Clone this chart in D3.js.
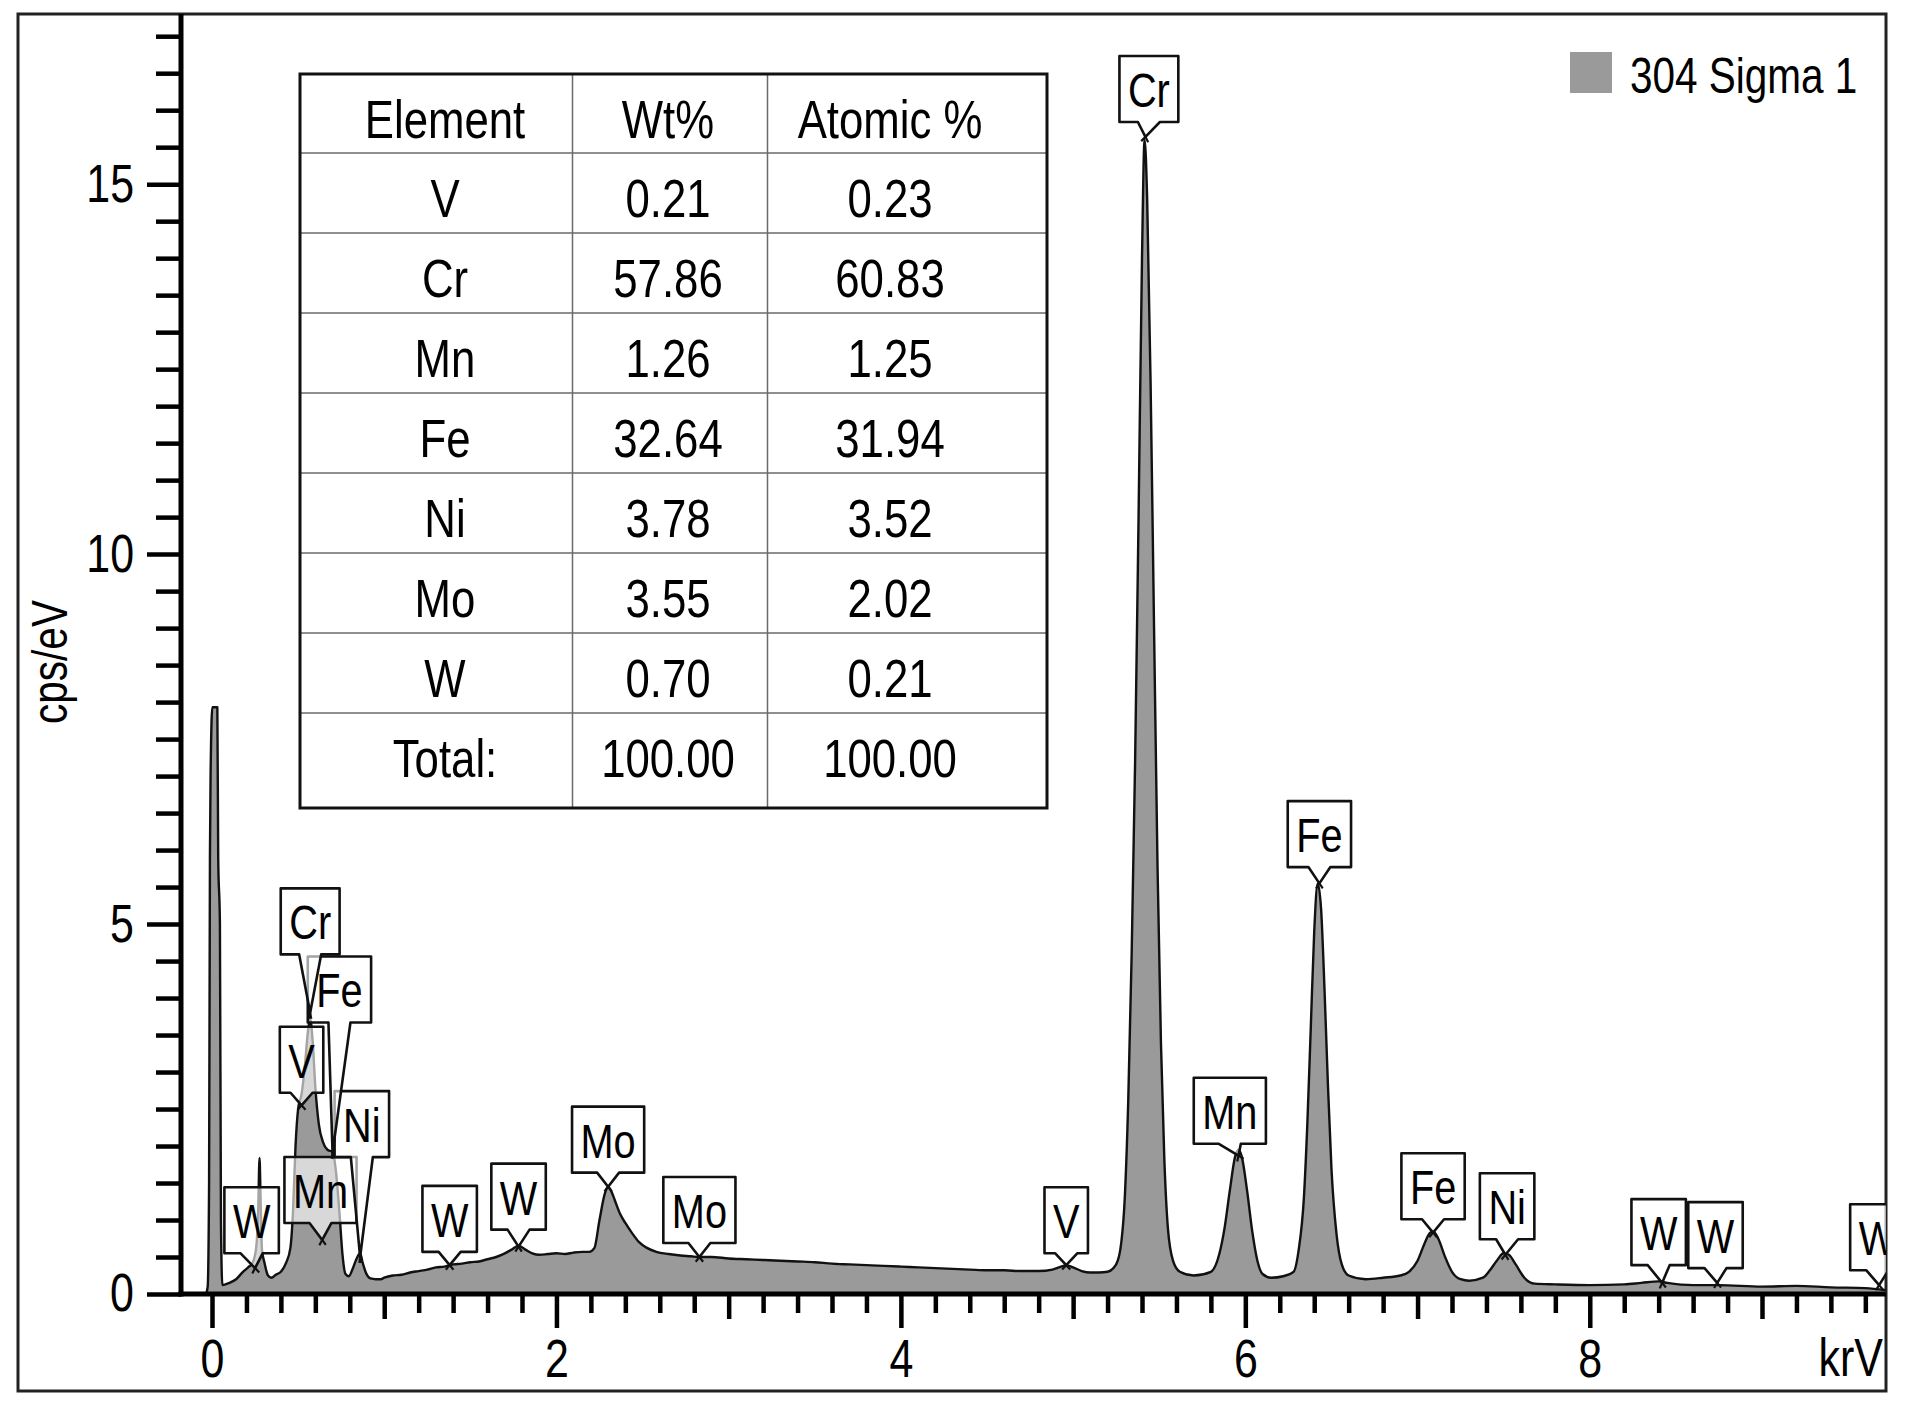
<!DOCTYPE html>
<html>
<head>
<meta charset="utf-8">
<script src="https://cdn.jsdelivr.net/npm/d3@7"></script>
<style>
  body { margin: 0; background: #fff; }
  svg { display: block; }
</style>
</head>
<body>
<div id="chart"></div>
<script>
// spectrum (keV, cps/eV)
const energyKeV = [
  -0.035, -0.025, -0.017, -0.012, -0.008, 0.002, 0.031, 0.036, 0.046, 0.052, 0.06,
  0.1, 0.14, 0.18, 0.21, 0.235, 0.255, 0.268, 0.276, 0.282, 0.29, 0.305, 0.325, 0.345,
  0.37, 0.4, 0.43, 0.455, 0.47, 0.485, 0.5, 0.52, 0.54, 0.557, 0.57, 0.585, 0.6, 0.62,
  0.645, 0.67, 0.7, 0.72, 0.74, 0.757, 0.775, 0.795, 0.815, 0.84, 0.86, 0.875, 0.895,
  0.92, 0.95, 0.98,
  1.0, 1.05, 1.1, 1.15, 1.2, 1.25, 1.3, 1.35, 1.4, 1.45, 1.5, 1.55, 1.6, 1.65, 1.7,
  1.74, 1.78, 1.82, 1.86, 1.9, 1.95, 2.0, 2.05, 2.1, 2.15, 2.19, 2.22, 2.25, 2.28, 2.3,
  2.32, 2.34, 2.37, 2.4, 2.44, 2.48, 2.52, 2.58, 2.65, 2.72, 2.78, 2.83, 2.9, 3.0, 3.1,
  3.2, 3.3, 3.4, 3.5, 3.6, 3.7, 3.8, 3.9, 4.0, 4.1, 4.2, 4.3, 4.4, 4.5, 4.6, 4.7, 4.8,
  4.88, 4.93, 4.96, 5.0, 5.05, 5.1, 5.15, 5.2,
  5.25, 5.28, 5.3, 5.32, 5.34, 5.36, 5.38, 5.4, 5.415, 5.43, 5.45, 5.47, 5.49, 5.51,
  5.53, 5.55, 5.58, 5.62, 5.7, 5.8, 5.85, 5.88, 5.91, 5.94, 5.96, 5.98, 6.01, 6.04,
  6.07, 6.1, 6.15, 6.22, 6.28, 6.31, 6.34, 6.36, 6.38, 6.4, 6.42, 6.44, 6.46, 6.48,
  6.5, 6.53, 6.56, 6.6, 6.7, 6.8, 6.9, 6.95, 7.0, 7.04, 7.07, 7.09, 7.12, 7.16, 7.2,
  7.25, 7.3, 7.38, 7.42, 7.46, 7.5, 7.53, 7.57, 7.62, 7.68, 7.8, 8.0, 8.2, 8.3, 8.4,
  8.45, 8.6, 8.75, 9.0, 9.2, 9.4, 9.6, 9.72
];
const countsPerEv = [
  0, 0.1, 1.5, 5.9, 7.05, 7.93, 7.93, 5.9, 5.0, 1.0, 0.12,
  0.15, 0.2, 0.3, 0.36, 0.42, 0.6, 1.1, 1.84, 1.3, 0.6, 0.42, 0.25, 0.22,
  0.26, 0.3, 0.42, 0.62, 1.1, 2.0, 2.5, 2.7, 3.1, 3.55, 3.72, 3.4, 2.8, 2.3,
  2.05, 1.95, 1.92, 1.65, 1.1, 0.55, 0.27, 0.24, 0.33, 0.48, 0.55, 0.42, 0.28,
  0.21, 0.2, 0.2,
  0.22, 0.25, 0.26, 0.29, 0.31, 0.33, 0.36, 0.37, 0.4, 0.41, 0.43, 0.44, 0.47, 0.5, 0.55,
  0.6, 0.65, 0.6, 0.55, 0.53, 0.54, 0.55, 0.54, 0.56, 0.57, 0.57, 0.62, 1.0, 1.35, 1.45,
  1.38, 1.26, 1.08, 0.96, 0.82, 0.7, 0.63, 0.57, 0.54, 0.52, 0.51, 0.5, 0.5, 0.48, 0.47,
  0.46, 0.45, 0.44, 0.43, 0.41, 0.4, 0.39, 0.38, 0.37, 0.36, 0.35, 0.34, 0.33, 0.32, 0.32, 0.31, 0.31,
  0.33, 0.37, 0.39, 0.36, 0.31, 0.29, 0.29, 0.3,
  0.4, 0.7, 1.3, 2.6, 4.6, 7.2, 10.5, 14.0, 15.6, 14.8, 12.3, 9.0, 5.8, 3.4,
  1.8, 0.9, 0.45, 0.3, 0.25, 0.3, 0.55, 0.9, 1.4, 1.85, 1.95, 1.85, 1.4, 0.85,
  0.45, 0.27, 0.22, 0.24, 0.3, 0.6, 1.3, 2.3, 3.6, 4.9, 5.55, 5.2, 4.1, 2.8,
  1.7, 0.8, 0.4, 0.25, 0.2, 0.22, 0.25, 0.3, 0.45, 0.68, 0.82, 0.85, 0.75, 0.5, 0.3,
  0.2, 0.18, 0.22, 0.32, 0.45, 0.55, 0.53, 0.4, 0.22, 0.14, 0.13, 0.12, 0.13, 0.15, 0.17,
  0.15, 0.12, 0.12, 0.1, 0.11, 0.09, 0.08, 0.05
];

// peak markers: text, tip (keV, cps/eV), box centre keV and box bottom cps/eV
const markerText    = ["Cr", "Fe", "Mn", "Fe", "Ni", "W", "W", "W", "V", "Mo", "Mo", "W", "W", "W", "Mn", "Ni", "V", "Fe", "Cr"];
const markerTipKeV  = [5.42, 6.43, 5.96, 7.09, 7.51, 8.42, 8.74, 9.68, 4.96, 2.30, 2.83, 1.78, 1.38, 0.25, 0.64, 0.86, 0.52, 0.70, 0.57];
const markerTipCps  = [15.64, 5.55, 1.87, 0.83, 0.53, 0.15, 0.15, 0.12, 0.39, 1.45, 0.50, 0.64, 0.39, 0.35, 0.73, 0.50, 2.55, 1.91, 3.80];
const markerBoxKeV  = [5.44, 6.43, 5.91, 7.09, 7.52, 8.40, 8.73, 9.67, 4.96, 2.30, 2.83, 1.78, 1.38, 0.23, 0.63, 0.87, 0.52, 0.74, 0.57];
const markerBoxCps  = [15.84, 5.77, 2.03, 1.01, 0.74, 0.39, 0.35, 0.32, 0.55, 1.64, 0.69, 0.87, 0.57, 0.55, 0.96, 1.85, 2.72, 3.67, 4.59];

// quantification table
const tableHeaders  = ["Element", "Wt%", "Atomic %"];
const tableElements = ["V", "Cr", "Mn", "Fe", "Ni", "Mo", "W", "Total:"];
const tableWt       = ["0.21", "57.86", "1.26", "32.64", "3.78", "3.55", "0.70", "100.00"];
const tableAtomic   = ["0.23", "60.83", "1.25", "31.94", "3.52", "2.02", "0.21", "100.00"];

const xTickLabels = [0, 2, 4, 6, 8];
const yTickLabels = [0, 5, 10, 15];
const seriesName = "304 Sigma 1";

// no narrow face installed, so squeeze Liberation Sans sideways
const FONT = "'Liberation Sans', Arial, sans-serif";
const SX = 0.81;
const GREY = "#9a9a9a";

const W = 1906, H = 1415;
const svg = d3.select("#chart").append("svg")
  .attr("width", W).attr("height", H)
  .style("font-family", FONT);

svg.append("rect").attr("width", W).attr("height", H).attr("fill", "#fff");

function ntext(parent, x, y, str, size, anchor, rot) {
  return parent.append("text")
    .attr("transform", `translate(${x},${y})` + (rot ? ` rotate(${rot})` : "") + ` scale(${SX},1)`)
    .attr("text-anchor", anchor || "start")
    .attr("fill", "#000")
    .style("font-size", size + "px")
    .text(str);
}

const plot = { left: 181, right: 1886, top: 14, bottom: 1294 };

const x = d3.scaleLinear().domain([-0.18, 9.72]).range([plot.left, plot.right]);
const y = d3.scaleLinear().domain([0, 17.3]).range([plot.bottom, plot.top]);

// frame
svg.append("rect")
  .attr("x", 18).attr("y", 14)
  .attr("width", 1868).attr("height", 1377)
  .attr("fill", "none").attr("stroke", "#222").attr("stroke-width", 3);

svg.append("defs").append("clipPath").attr("id", "plotclip")
  .append("rect")
  .attr("x", plot.left).attr("y", plot.top)
  .attr("width", plot.right - plot.left).attr("height", plot.bottom - plot.top);

const spectrum = energyKeV.map((e, i) => ({ e: e, c: countsPerEv[i] }));

const g = svg.append("g").attr("clip-path", "url(#plotclip)");

g.append("path")
  .datum(spectrum)
  .attr("fill", GREY)
  .attr("d", d3.area()
    .x((d) => x(d.e))
    .y0(y(0))
    .y1((d) => y(d.c))
    .curve(d3.curveMonotoneX));

g.append("path")
  .datum(spectrum)
  .attr("fill", "none")
  .attr("stroke", "#111")
  .attr("stroke-width", 2.4)
  .attr("stroke-linejoin", "round")
  .attr("d", d3.line()
    .x((d) => x(d.e))
    .y((d) => y(d.c))
    .curve(d3.curveMonotoneX));

// peak markers (callout boxes)
const BOX_H = 66, TAIL = 11;
markerText.forEach((t, i) => {
  const mg = g.append("g");
  const cx = x(markerBoxKeV[i]);
  const bb = y(markerBoxCps[i]);
  const txt = ntext(mg, cx, bb - 15, t, 49, "middle");
  const tw = txt.node().getComputedTextLength() * SX;
  const bw = tw + 17;
  const bt = bb - BOX_H;
  const l = cx - bw / 2, r = cx + bw / 2;
  const tx = x(markerTipKeV[i]), ty = y(markerTipCps[i]);
  const path = d3.path();
  path.moveTo(l, bt);
  path.lineTo(r, bt);
  path.lineTo(r, bb);
  path.lineTo(cx + TAIL, bb);
  path.lineTo(tx, ty);
  path.lineTo(cx - TAIL, bb);
  path.lineTo(l, bb);
  path.closePath();
  mg.insert("path", "text")
    .attr("d", path.toString())
    .attr("fill", "#fff")
    .attr("fill-opacity", 0.62)
    .attr("stroke", "#111")
    .attr("stroke-width", 2.6)
    .attr("stroke-linejoin", "round");
  // little crossing past the tip
  [-TAIL, TAIL].forEach((o) => {
    const sx = cx + o, sy = bb;
    const len = Math.hypot(tx - sx, ty - sy);
    const ext = 6 / len;
    mg.insert("line", "text")
      .attr("x1", tx).attr("y1", ty)
      .attr("x2", tx + (tx - sx) * ext).attr("y2", ty + (ty - sy) * ext)
      .attr("stroke", "#111").attr("stroke-width", 2.2);
  });
});

// axes
const xMinor = d3.range(0, 49).map((i) => +(i * 0.2).toFixed(1)).filter((v) => !Number.isInteger(v));
const xOdd = [1, 3, 5, 7, 9];

function styleTicks(sel, width) {
  sel.select(".domain").remove();
  sel.selectAll(".tick line").attr("stroke", "#000").attr("stroke-width", width);
}

svg.append("g")
  .attr("transform", `translate(0,${plot.bottom})`)
  .call(d3.axisBottom(x).tickValues(xMinor).tickSize(19).tickFormat(""))
  .call((s) => styleTicks(s, 4.5));
svg.append("g")
  .attr("transform", `translate(0,${plot.bottom})`)
  .call(d3.axisBottom(x).tickValues(xOdd).tickSize(25).tickFormat(""))
  .call((s) => styleTicks(s, 4.5));
svg.append("g")
  .attr("transform", `translate(0,${plot.bottom})`)
  .call(d3.axisBottom(x).tickValues(xTickLabels).tickSize(34).tickPadding(11).tickFormat(d3.format("d")))
  .call((s) => {
    styleTicks(s, 4.5);
    s.selectAll("text")
      .attr("fill", "#000")
      .attr("transform", `scale(${SX},1)`)
      .style("font-size", "53px").style("font-family", FONT);
  });

const yMinor = d3.range(0, 35).map((i) => i * 0.5).filter((v) => v % 5 !== 0);
svg.append("g")
  .attr("transform", `translate(${plot.left},0)`)
  .call(d3.axisLeft(y).tickValues(yMinor).tickSize(25).tickFormat(""))
  .call((s) => styleTicks(s, 4.5));
svg.append("g")
  .attr("transform", `translate(${plot.left},0)`)
  .call(d3.axisLeft(y).tickValues(yTickLabels).tickSize(34).tickPadding(13).tickFormat(d3.format("d")))
  .call((s) => {
    styleTicks(s, 4.5);
    s.selectAll("text")
      .attr("fill", "#000")
      .attr("x", -47 / SX)
      .attr("transform", `scale(${SX},1)`)
      .style("font-size", "53px").style("font-family", FONT);
  });

// axis lines
svg.append("line")
  .attr("x1", plot.left).attr("x2", plot.left)
  .attr("y1", plot.top).attr("y2", plot.bottom + 2.5)
  .attr("stroke", "#000").attr("stroke-width", 5);
svg.append("line")
  .attr("x1", plot.left - 2.5).attr("x2", plot.right)
  .attr("y1", plot.bottom).attr("y2", plot.bottom)
  .attr("stroke", "#000").attr("stroke-width", 5);

// axis titles
ntext(svg, 67, 662, "cps/eV", 50, "middle", -90);
ntext(svg, 1883, 1376, "krV", 53, "end");

// legend
svg.append("rect")
  .attr("x", 1570).attr("y", 52).attr("width", 42).attr("height", 41)
  .attr("fill", GREY);
ntext(svg, 1630, 93, seriesName, 50, "start");

// table
const tbl = svg.append("g");
const tLeft = 300, tTop = 74, tRight = 1047;
const colLines = [572.5, 767.5];
const colCentres = [445, 668, 890];
const headerH = 79, rowH = 80, totalH = 95;
const rowTops = [tTop];
for (let i = 0; i < tableElements.length; i++) {
  rowTops.push(tTop + headerH + i * rowH);
}
const tBottom = tTop + headerH + (tableElements.length - 1) * rowH + totalH;

tbl.append("rect")
  .attr("x", tLeft).attr("y", tTop)
  .attr("width", tRight - tLeft).attr("height", tBottom - tTop)
  .attr("fill", "#fff");

rowTops.slice(1).forEach((ry) => {
  tbl.append("line")
    .attr("x1", tLeft).attr("x2", tRight).attr("y1", ry).attr("y2", ry)
    .attr("stroke", "#6a6a6a").attr("stroke-width", 1.5);
});
colLines.forEach((cx) => {
  tbl.append("line")
    .attr("x1", cx).attr("x2", cx).attr("y1", tTop).attr("y2", tBottom)
    .attr("stroke", "#6a6a6a").attr("stroke-width", 1.5);
});
tbl.append("rect")
  .attr("x", tLeft).attr("y", tTop)
  .attr("width", tRight - tLeft).attr("height", tBottom - tTop)
  .attr("fill", "none").attr("stroke", "#111").attr("stroke-width", 3);

const tableRows = [tableHeaders].concat(tableElements.map((el, i) => [el, tableWt[i], tableAtomic[i]]));
tableRows.forEach((row, ri) => {
  row.forEach((cell, ci) => {
    ntext(tbl, colCentres[ci], rowTops[ri] + 64, cell, 54, "middle");
  });
});
</script>
</body>
</html>
